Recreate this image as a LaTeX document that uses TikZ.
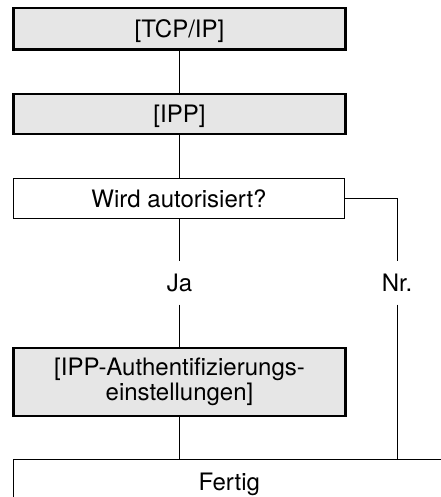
\documentclass[tikz,border=0pt]{standalone}
\usepackage{fontspec}
\setmainfont{TeX Gyre Heros}
\definecolor{boxgray}{HTML}{E6E6E6}
\begin{document}
\begin{tikzpicture}[x=1pt,y=-1pt,
  txt/.style={font=\fontsize{24}{25}\selectfont, inner sep=0pt},
  oneline/.style={txt, text height=17.2pt, text depth=0pt},
  graybox/.style={draw=black, line width=2.5pt, fill=boxgray, minimum width=331.6pt},
  whitebox/.style={oneline, draw=black, line width=1pt, fill=white},
  lbl/.style={oneline, minimum height=43pt},
  conn/.style={draw=black, line width=1pt}]
\useasboundingbox (0,0) rectangle (440,497);

\node[graybox, oneline, minimum height=41.3pt] (tcp) at (179.5,28.8) {[TCP/IP]};
\node[graybox, oneline, minimum height=39.6pt] (ipp) at (179.5,114) {[IPP]};
\node[whitebox, minimum width=331pt, minimum height=40pt] (wird) at (179,198.5) {Wird autorisiert?};
\node[lbl] (ja) at (179.5,283) {Ja};
\node[lbl] (nr) at (397,283) {Nr.};
\node[graybox, txt, align=center, minimum height=67.6pt] (auth) at (179.5,382) {[IPP-Authentifizierungs-\\einstellungen]};
\node[whitebox, minimum width=431.5pt, minimum height=45pt] (fertig) at (229.25,481.5) {Fertig};

\draw[conn] (tcp) -- (ipp);
\draw[conn] (ipp) -- (ipp |- wird.north);
\draw[conn] (ja |- wird.south) -- (ja);
\draw[conn] (ja) -- (auth);
\draw[conn] (auth.south) -- (auth.south |- fertig.north);
\draw[conn] (wird.east) -| (nr.north);
\draw[conn] (nr.south) -- (nr.south |- fertig.north);
\end{tikzpicture}
\end{document}
